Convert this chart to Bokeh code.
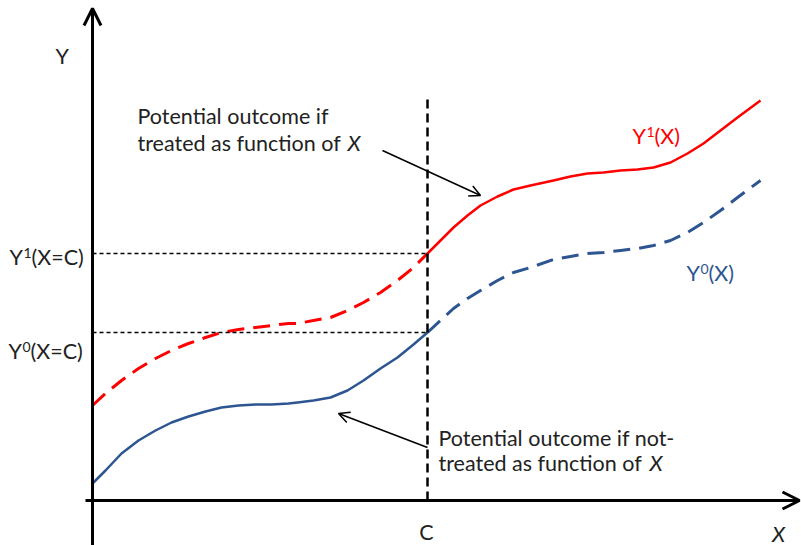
from bokeh.plotting import figure
from bokeh.models import Range1d, Arrow, OpenHead, Label
from bokeh.embed import file_html
from bokeh.resources import INLINE

# ---- data (chart units: x measured from the Y axis, y from the X axis) ----
cutoff_c = 335
x_left = [0, 13, 29, 46, 63, 79, 96, 113, 129, 146, 163, 179, 196, 205, 221, 238, 255, 271, 288, 305, 321, 335]
y1_left = [95, 107, 120, 132, 142, 150, 157, 163, 168, 171, 173, 175, 177, 177, 180, 183, 190, 198, 208, 220, 233, 247]  # treated (dashed)
y0_left = [17, 30, 47, 60, 70, 78, 84, 89, 93, 95, 96, 96, 97, 98, 100, 103, 110, 120, 132, 143, 156, 168]           # untreated (solid)
x_right = [335, 348, 361, 375, 388, 405, 421, 438, 461, 478, 495, 511, 528, 545, 561, 578, 595, 611, 628, 645, 668]
y1_right = [247, 260, 273, 285, 295, 304, 311, 315, 320, 324, 327, 328, 330, 331, 333, 338, 347, 357, 370, 383, 400]  # treated (solid)
y0_right = [168, 180, 192, 202, 210, 220, 228, 233, 241, 244, 247, 248, 250, 252, 255, 260, 268, 278, 290, 303, 320]  # untreated (dashed)

RED = "#FF0000"
BLUE = "#2C5591"
INK = "#222222"
FONT = "Lato"
FS = "21.5px"
FS_SUP = "14px"

p = figure(width=801, height=545, x_range=Range1d(-92, 709), y_range=Range1d(-45, 500),
           output_backend="svg", toolbar_location=None,
           min_border=0, min_border_left=0, min_border_right=0,
           min_border_top=0, min_border_bottom=0)
p.axis.visible = False
p.grid.visible = False
p.outline_line_color = None
p.background_fill_color = "white"
p.border_fill_color = "white"

# curves
p.line(x_left, y1_left, line_color=RED, line_width=3, line_dash="17 9", line_join="round")
p.line(x_right, y1_right, line_color=RED, line_width=2.5, line_join="round")
p.line(x_left, y0_left, line_color=BLUE, line_width=2.5, line_join="round")
p.line(x_right, y0_right, line_color=BLUE, line_width=3, line_dash="17 9", line_join="round")

# reference lines at the cutoff
y1c = y1_left[-1]
y0c = y0_left[-1]
p.line([0, cutoff_c], [y1c, y1c], line_color="black", line_width=1.5, line_dash="4 3")
p.line([0, cutoff_c], [y0c, y0c], line_color="black", line_width=1.5, line_dash="4 3")
p.line([cutoff_c, cutoff_c], [0, 405], line_color="black", line_width=2.5, line_dash="9 5")

# axes drawn as arrows
p.add_layout(Arrow(x_start=0, y_start=-45, x_end=0, y_end=492, line_width=3, line_color="black",
                   end=OpenHead(size=17, line_width=3, line_color="black")))
p.add_layout(Arrow(x_start=-7, y_start=0, x_end=707, y_end=0, line_width=3, line_color="black",
                   end=OpenHead(size=17, line_width=3, line_color="black")))

# annotation arrows
p.add_layout(Arrow(x_start=290, y_start=350, x_end=388, y_end=305, line_width=1.5, line_color="black",
                   end=OpenHead(size=11, line_width=1.5, line_color="black")))
p.add_layout(Arrow(x_start=335, y_start=53, x_end=246, y_end=87, line_width=1.5, line_color="black",
                   end=OpenHead(size=11, line_width=1.5, line_color="black")))


def lab(x, y, text, color=INK, align="left", baseline="middle", style="normal", size=FS):
    p.add_layout(Label(x=x, y=y, text=text, text_color=color, text_font=FONT,
                       text_font_size=size, text_align=align, text_baseline=baseline,
                       text_font_style=style))


def sup_label(x, y, base, sup, rest, color=INK):
    lab(x, y, base, color=color)
    lab(x + 14, y + 4, sup, color=color, size=FS_SUP)
    lab(x + 22, y, rest, color=color)


lab(-37, 445, "Y")
sup_label(-83, 244, "Y", "1", "(X=C)")
sup_label(-84, 150, "Y", "0", "(X=C)")
lab(334, -31, "C", align="center")
lab(686, -33, "X", align="center", style="italic")

lab(45, 384.5, "Potential outcome if")
lab(45, 357.5, "treated as function of")
lab(255, 357.5, "X", style="italic")

lab(346, 63, "Potential outcome if not-")
lab(346, 37.5, "treated as function of")
lab(557, 37.5, "X", style="italic")

sup_label(540, 364.5, "Y", "1", "(X)", color=RED)
sup_label(594, 227.5, "Y", "0", "(X)", color=BLUE)

open("out.html", "w").write(file_html(p, INLINE))
